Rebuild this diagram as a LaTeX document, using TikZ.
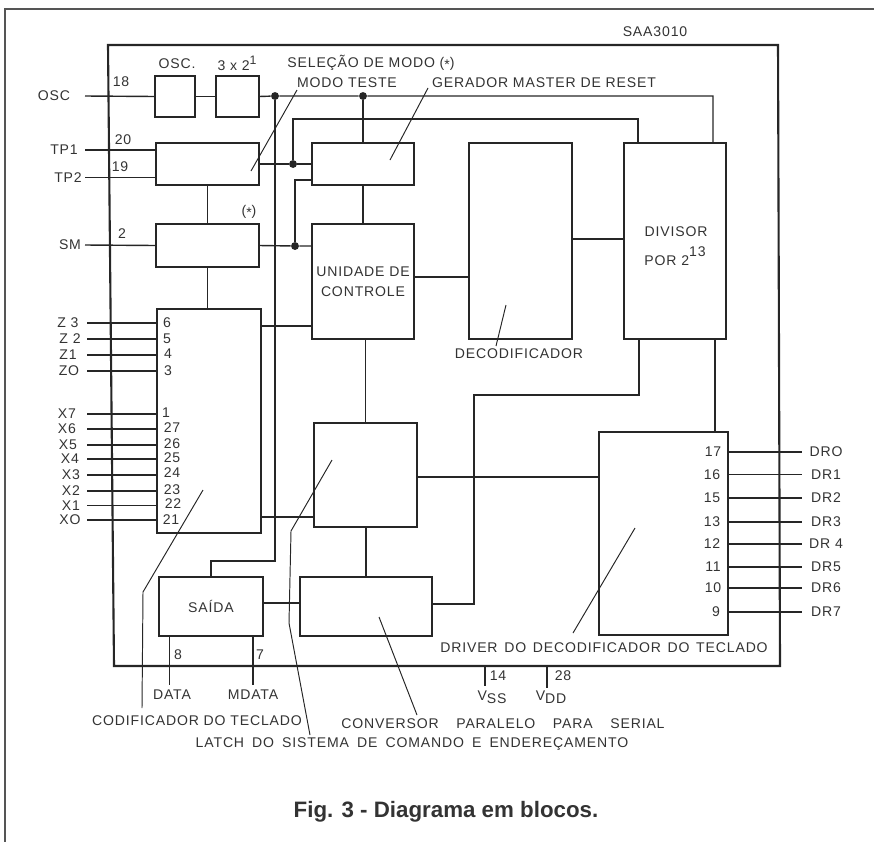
\documentclass[tikz,border=0pt]{standalone}
\usepackage{fontspec}
\setmainfont{Liberation Sans}
\newfontfamily\lblfont[LetterSpace=6]{Liberation Sans}
\usepackage{xcolor}
\usetikzlibrary{positioning}
\definecolor{cInk}{HTML}{262626}
\definecolor{cFrame}{HTML}{555555}
\definecolor{cText}{HTML}{333333}
\tikzset{
  block/.style={draw=cInk, rectangle, inner sep=0pt, outer sep=0pt, line width=1.1pt},
  wire/.style={draw=cInk, line width=0.8pt},
  pointer/.style={draw=cInk, line width=0.55pt},
  junction/.style={fill=cInk, circle, inner sep=0pt, minimum size=4.5pt},
  lbl/.style={font=\lblfont\fontsize{8}{9.5}\selectfont, text=cText, inner sep=0pt, align=center},
}
\begin{document}
\begin{tikzpicture}[x=0.02cm,y=-0.02cm]
  \useasboundingbox (0,0) rectangle (874,842);
  \draw[cFrame, line width=0.7pt] (874,9) -- (5,9) -- (5,842);
  \draw[cInk, line width=1.2pt] (108,45) -- (778,45) -- (780,666) -- (114,666) -- cycle;

  \node[block, minimum width=0.80cm, minimum height=0.82cm] (osc) at (175,96.5) {};
  \node[block, minimum width=0.86cm, minimum height=0.82cm] (tresx) at (237.5,96.5) {};
  \node[block, minimum width=2.06cm, minimum height=0.84cm] (teste) at (207.5,164) {};
  \node[block, minimum width=2.04cm, minimum height=0.84cm] (reset) at (363,164) {};
  \node[block, minimum width=2.06cm, minimum height=0.86cm] (modo) at (207.5,245.5) {};
  \node[block, minimum width=2.04cm, minimum height=2.30cm, lbl] (unidade) at (363,281.5) {UNIDADE DE\\[2pt]CONTROLE};
  \node[block, minimum width=2.08cm, minimum height=4.48cm] (codificador) at (209,421) {};
  \node[block, minimum width=2.06cm, minimum height=2.08cm] (latch) at (365.5,475) {};
  \node[block, minimum width=2.08cm, minimum height=1.18cm, lbl] (saida) at (211,606.5) {SAÍDA};
  \node[block, minimum width=2.64cm, minimum height=1.18cm] (conversor) at (366,606.5) {};
  \node[block, minimum width=2.06cm, minimum height=3.92cm] (decodificador) at (520.5,241) {};
  \node[block, minimum width=2.04cm, minimum height=3.92cm] (divisor) at (675,241) {};
  \node[block, minimum width=2.58cm, minimum height=4.06cm] (driver) at (663.5,533.5) {};

  \node[junction] (jA) at (275,96) {};
  \node[junction] (jB) at (363,96) {};
  \node[junction] (jC) at (293,164) {};
  \node[junction] (jD) at (295,246) {};

  % clock and reset lines
  \draw[wire] (osc) -- (tresx);
  \draw[wire] (tresx.east) -- (jA) -- (jB) -- (713,96) -- (713,96 |- divisor.north);
  \draw[wire] (jB) -- (reset.north);
  \draw[wire] (jA) -- (275,561) -- (saida.north |- 0,561) -- (saida.north);
  \draw[wire] (teste.east) -- (jC) -- (reset.west);
  \draw[wire] (jC) -- (293,119) -- (638,119) -- (638,119 |- divisor.north);
  \draw[wire] (modo.east) -- (jD) -- (unidade.west |- jD);
  \draw[wire] (jD) -- (295,180) -- (reset.west |- 0,180);
  % between blocks
  \draw[wire] (teste.south) -- (modo.north);
  \draw[wire] (modo.south) -- (modo.south |- codificador.north);
  \draw[wire] (reset.south) -- (unidade.north);
  \draw[wire] (unidade.east |- 0,277) -- (decodificador.west |- 0,277);
  \draw[wire] (decodificador.east |- 0,239) -- (divisor.west |- 0,239);
  \draw[wire] (codificador.east |- 0,326) -- (unidade.west |- 0,326);
  \draw[wire] (codificador.east |- 0,517) -- (latch.west |- 0,517);
  \draw[wire] (latch.north |- unidade.south) -- (latch.north);
  \draw[wire] (conversor.north |- latch.south) -- (conversor.north);
  \draw[wire] (latch.east |- 0,477) -- (driver.west |- 0,477);
  \draw[wire] (saida.east |- 0,603) -- (conversor.west |- 0,603);
  \draw[wire] (conversor.east |- 0,604) -- (474,604) -- (474,395) -- (639,395) -- (639,395 |- divisor.south);
  \draw[wire] (715,0 |- divisor.south) -- (715,0 |- driver.north);

  % pins on the left
  \foreach \pinid/\pintext/\lx/\py/\pinnum/\nx/\ny in {
    TP1/TP1/64/150/20/123/140, TP2/TP2/68/177.5/19/120/167, SM/SM/70/245/2/122/234}
  {
    \node[lbl] (\pinid) at (\lx,\py) {\pintext};
    \node[lbl] (num\pinid) at (\nx,\ny) {\pinnum};
  }
  \foreach \pinid/\pintext/\lx/\py/\pinnum/\nx/\ny in {
    Z3/Z 3/68/323/6/167/323, Z2/Z 2/70/339/5/167/339, Z1/Z1/68/355/4/168/354, Z0/ZO/69/371/3/168/371,
    X7/X7/67/414/1/166/413, X6/X6/67/429/27/172/428, X5/X5/68/445/26/172/444, X4/X4/70/459/25/172/458,
    X3/X3/71/475/24/172/473, X2/X2/71/491/23/172/490, X1/X1/71/505.5/22/173/504, X0/XO/70/520/21/171/520}
  {
    \node[lbl] (\pinid) at (\lx,\py) {\pintext};
    \node[lbl] (num\pinid) at (\nx,\ny) {\pinnum};
    \coordinate (\pinid end) at (87,\py);
    \draw[wire] (\pinid end) -- (codificador.west |- \pinid end);
  }
  \draw[wire] (85,96) -- (osc.west);
  \draw[wire] (85,150) -- (teste.west |- 0,150);
  \draw[wire] (85,177.5) -- (teste.west |- 0,177.5);
  \draw[wire] (85,245) -- (modo.west);
  \node[lbl] (oscpin) at (54,96) {OSC};
  \node[lbl] (numosc) at (121,82) {18};

  % pins on the right
  \foreach \pinid/\pintext/\py/\pinnum/\nx in {
    DR0/DRO/452/17/713, DR1/DR1/474.5/16/712, DR2/DR2/498/15/712, DR3/DR3/522/13/712,
    DR4/DR 4/544/12/712, DR5/DR5/567/11/713, DR6/DR6/588/10/713, DR7/DR7/612/9/716}
  {
    \node[lbl] (\pinid) at (826,\py) {\pintext};
    \node[lbl] (num\pinid) at (\nx,\py) {\pinnum};
    \coordinate (\pinid end) at (802,\py);
    \draw[wire] (driver.east |- \pinid end) -- (\pinid end);
  }

  % pins at the bottom
  \node[lbl] (data) at (172,695) {DATA};
  \node[lbl] (mdata) at (253,695) {MDATA};
  \node[lbl] (vss) at (492,697) {V\raisebox{-.4ex}{SS}};
  \node[lbl] (vdd) at (551,697) {V\raisebox{-.4ex}{DD}};
  \draw[wire] (169.5,636) -- (169.5,685);
  \draw[wire] (253,636) -- (253,685);
  \draw[wire] (485,666) -- (485,686);
  \draw[wire] (547,666) -- (547,688);
  \node[lbl] (numdata) at (178,655) {8};
  \node[lbl] (nummdata) at (260,655) {7};
  \node[lbl] (numvss) at (498,676) {14};
  \node[lbl] (numvdd) at (563,676) {28};

  % captions
  \node[lbl] (chipname) at (655,32) {SAA3010};
  \node[lbl] (osctxt) at (177,64) {OSC.};
  \node[lbl] (tresxtxt) at (237,63) {3 x 2\raisebox{.8ex}{\scriptsize 1}};
  \node[lbl] (selecao) at (371,63) {SELEÇÃO DE MODO (\raisebox{-.3ex}{*})};
  \node[lbl] (modoteste) at (347,83) {MODO TESTE};
  \node[lbl] (gerador) at (544,83) {GERADOR MASTER DE RESET};
  \node[lbl] (asterisco) at (249,212) {(\raisebox{-.3ex}{*})};
  \node[lbl] (divisortxt) at (676,232) {DIVISOR};
  \node[lbl] (portxt) at (675,256) {POR 2\raisebox{1.2ex}{13}};
  \node[lbl] (decodtxt) at (519,354) {DECODIFICADOR};
  \node[lbl] (drivertxt) at (604,648) {\spaceskip=3.8pt DRIVER DO DECODIFICADOR DO TECLADO};
  \node[lbl] (codtxt) at (197,721) {CODIFICADOR DO TECLADO};
  \node[lbl] (convtxt) at (503,724) {\spaceskip=10pt CONVERSOR PARALELO PARA SERIAL};
  \node[lbl] (latchtxt) at (412,744) {\spaceskip=4.6pt LATCH DO SISTEMA DE COMANDO E ENDEREÇAMENTO};
  \node[font=\bfseries\fontsize{12.7}{14}\selectfont, text=cText, inner sep=0pt] (figtxt) at (446,812) {Fig. 3 - Diagrama em blocos.};

  % leader lines
  \draw[pointer] (251,171) -- (297,90);
  \draw[pointer] (390,160) -- (428,88);
  \draw[pointer] (506,305) -- (496,346);
  \draw[pointer] (332,460) -- (291,531) -- (289,623) -- (310,735);
  \draw[pointer] (203,490) -- (143,592) -- (142,708);
  \draw[pointer] (379,617) -- (417,715);
  \draw[pointer] (635,528) -- (573,633);
\end{tikzpicture}
\end{document}
